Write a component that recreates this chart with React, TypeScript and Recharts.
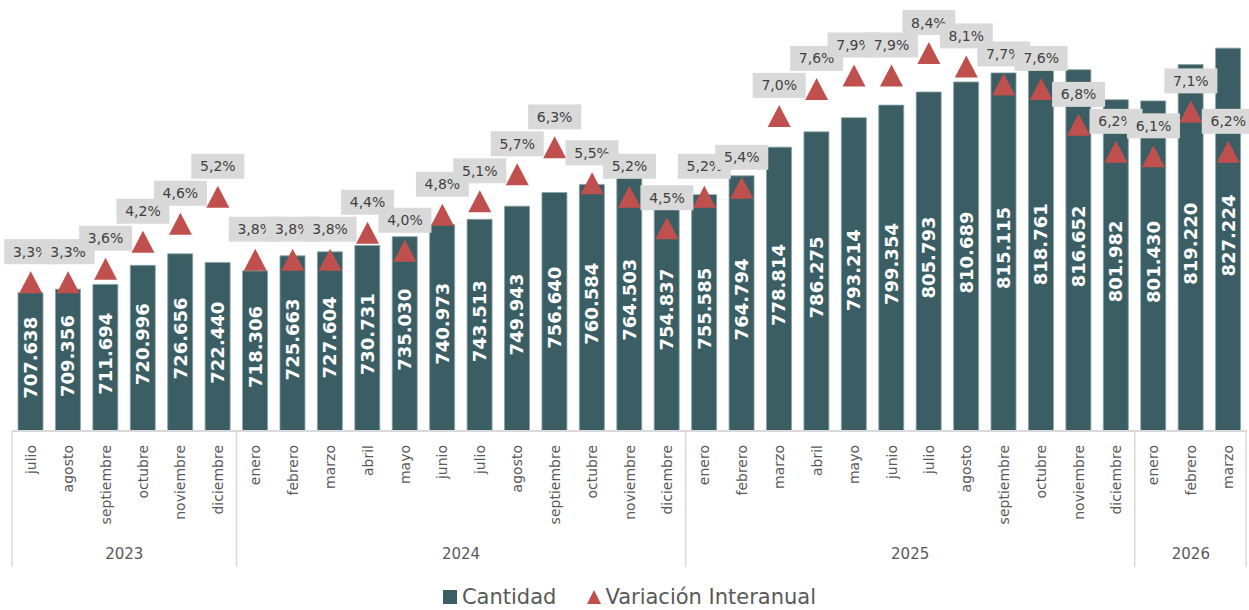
import React from 'react';
import { ComposedChart, Bar, Line, XAxis, YAxis, LabelList, Legend } from 'recharts';

const months = [
  'julio', 'agosto', 'septiembre', 'octubre', 'noviembre', 'diciembre',
  'enero', 'febrero', 'marzo', 'abril', 'mayo', 'junio', 'julio', 'agosto', 'septiembre', 'octubre', 'noviembre', 'diciembre',
  'enero', 'febrero', 'marzo', 'abril', 'mayo', 'junio', 'julio', 'agosto', 'septiembre', 'octubre', 'noviembre', 'diciembre',
  'enero', 'febrero', 'marzo',
];
const years = ['2023', '2024', '2025', '2026'];
const yearCounts = [6, 12, 12, 3];

const cantidad = [
  707638, 709356, 711694, 720996, 726656, 722440,
  718306, 725663, 727604, 730731, 735030, 740973, 743513, 749943, 756640, 760584, 764503, 754837,
  755585, 764794, 778814, 786275, 793214, 799354, 805793, 810689, 815115, 818761, 816652, 801982,
  801430, 819220, 827224,
];
const variacion = [
  3.3, 3.3, 3.6, 4.2, 4.6, 5.2,
  3.8, 3.8, 3.8, 4.4, 4.0, 4.8, 5.1, 5.7, 6.3, 5.5, 5.2, 4.5,
  5.2, 5.4, 7.0, 7.6, 7.9, 7.9, 8.4, 8.1, 7.7, 7.6, 6.8, 6.2,
  6.1, 7.1, 6.2,
];

// year index for every month
const yearOf: number[] = [];
yearCounts.forEach((c, yi) => { for (let k = 0; k < c; k++) yearOf.push(yi); });

const data = months.map((m, i) => ({
  key: `${i}-${m}`,
  month: m,
  year: years[yearOf[i]],
  cantidad: cantidad[i],
  variacion: variacion[i],
}));

const BAR = '#3a5e64';
const RED = '#c0504d';
const GRID = '#d9d9d9';
const TXT = '#595959';
const FONT = '"DejaVu Sans", Verdana, sans-serif';

const fmtMiles = (v: number) => String(v).replace(/\B(?=(\d{3})+(?!\d))/g, '.');
const fmtPct = (v: number) => v.toFixed(1).replace('.', ',') + '%';

const MonthTick = (props: any) => {
  const { x, y, payload, index } = props;
  const half = payload && payload.offset ? payload.offset : 18.7;
  const i = index ?? payload.index;
  const yi = yearOf[i];
  const first = i === 0 || yearOf[i - 1] !== yi;
  const last = i === data.length - 1;
  const top = y - 8;
  const lineBottom = y + 128;
  const count = yearCounts[yi];
  const groupCenter = x - half + count * half;
  return (
    <g>
      {first && <line x1={x - half} x2={x - half} y1={top} y2={lineBottom} stroke={GRID} strokeWidth={1.5} />}
      {last && <line x1={x + half - 1} x2={x + half - 1} y1={top} y2={lineBottom} stroke={GRID} strokeWidth={1.5} />}
      <text
        transform={`translate(${x},${y + 6}) rotate(-90)`}
        textAnchor="end"
        dy="0.36em"
        fontSize={14}
        fontFamily={FONT}
        fill={TXT}
      >
        {payload.value.split('-')[1]}
      </text>
      {first && (
        <text x={groupCenter} y={y + 120} textAnchor="middle" fontSize={15} fontFamily={FONT} fill={TXT}>
          {years[yi]}
        </text>
      )}
    </g>
  );
};

const BarValue = (props: any) => {
  const { x, y, width, height, value } = props;
  const cx = x + width / 2;
  const cy = y + height / 2 - 4;
  return (
    <text
      transform={`translate(${cx},${cy}) rotate(-90)`}
      textAnchor="middle"
      dy="0.36em"
      fontSize={18}
      fontWeight="bold"
      fontFamily={FONT}
      fill="#ffffff"
    >
      {fmtMiles(value)}
    </text>
  );
};

const Triangle = (props: any) => {
  const { cx, cy, index } = props;
  if (cx == null || cy == null) return null;
  return (
    <path
      key={`t-${index}`}
      d={`M${cx},${cy - 11.5} L${cx + 11.5},${cy + 10.5} L${cx - 11.5},${cy + 10.5} Z`}
      fill={RED}
    />
  );
};

const PctBox = (props: any) => {
  const { x, y, value } = props;
  const w = 53;
  const h = 25;
  const by = y - 31;
  return (
    <g>
      <rect x={x - w / 2} y={by - h / 2} width={w} height={h} fill={GRID} />
      <text x={x} y={by} dy="0.36em" textAnchor="middle" fontSize={14} fontFamily={FONT} fill="#404040">
        {fmtPct(value)}
      </text>
    </g>
  );
};

const LegendContent = () => (
  <div style={{ display: 'flex', justifyContent: 'center', alignItems: 'center', fontFamily: FONT, fontSize: 21, lineHeight: '24px', color: TXT, height: 26 }}>
    <svg width={14} height={14} style={{ marginRight: 5 }}>
      <rect width={14} height={14} fill={BAR} />
    </svg>
    <span style={{ marginRight: 30 }}>Cantidad</span>
    <svg width={16} height={14} style={{ marginRight: 3 }}>
      <path d="M8,0 L15,14 L1,14 Z" fill={RED} />
    </svg>
    <span>Variación Interanual</span>
  </div>
);

export default function App() {
  return (
    <div style={{ position: 'absolute', left: 0, top: 0, width: 1249, height: 610, background: '#fff', overflow: 'hidden' }}>
      <ComposedChart
        width={1249}
        height={610}
        data={data}
        margin={{ top: 22, right: 2, bottom: 0, left: 12 }}
        barSize={25}
      >
        <XAxis
          dataKey="key"
          interval={0}
          height={149}
          tickLine={false}
          axisLine={{ stroke: GRID, strokeWidth: 2 }}
          tick={<MonthTick />}
        />
        <YAxis yAxisId="left" hide domain={[640000, 840000]} allowDataOverflow />
        <YAxis yAxisId="right" orientation="right" hide domain={[0, 9.1]} allowDataOverflow />
        <Legend verticalAlign="bottom" height={30} content={<LegendContent />} wrapperStyle={{ bottom: -4 }} />
        <Bar yAxisId="left" dataKey="cantidad" fill={BAR} stroke="#8aa3a7" strokeWidth={0.8} isAnimationActive={false}>
          <LabelList dataKey="cantidad" content={<BarValue />} />
        </Bar>
        <Line
          yAxisId="right"
          dataKey="variacion"
          stroke="none"
          strokeWidth={0}
          dot={<Triangle />}
          activeDot={false}
          isAnimationActive={false}
        >
          <LabelList dataKey="variacion" content={<PctBox />} />
        </Line>
      </ComposedChart>
    </div>
  );
}
